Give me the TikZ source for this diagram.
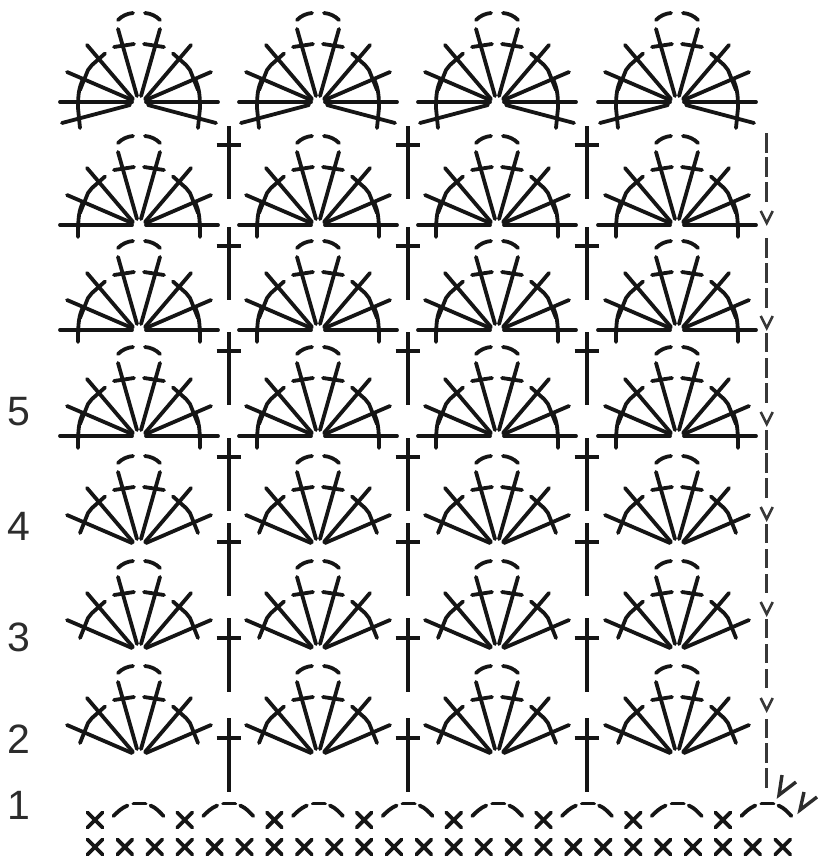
\documentclass[tikz,border=0pt]{standalone}
\usepackage{fontspec}
\setmainfont{Liberation Sans}
\definecolor{ink}{HTML}{151515}
\tikzset{
  x=1pt,y=1pt,
  st/.style={draw=ink,line width=3.8pt,line cap=round,line join=round},
  post/.style={draw=ink,line width=4pt},
  sidedash/.style={draw=ink!85,line width=3pt},
  chv/.style={draw=ink!85,line width=2.6pt,line join=miter},
  bigv/.style={draw=ink!90,line width=3.4pt,line join=miter},
  rownum/.style={text=ink!90,inner sep=0pt,font=\fontsize{41}{41}\selectfont},
}
% half of a fan (right half, mirrored with xscale=-1)
\newcommand\halffan{%
  \draw[st] (7,0) -- (72,28);
  \draw[st] (6,1) -- (52,55);
  \draw[st] (2,4) -- (21,71);
  \draw[st] (59,10) -- (51,30) -- (47,35) -- (34,46.5);
  \draw[st] (25,53) -- (5,56);
  \draw[st] (6,87) .. controls (12,86.5) and (17,84) .. (21,80);
}
\newcommand\shortfan[2]{%
  \foreach \s in {-1,1}{\begin{scope}[shift={(#1,-#2)},xscale=\s]\halffan\end{scope}}}
\newcommand\flatfan[2]{%
  \foreach \s in {-1,1}{\begin{scope}[shift={(#1,-#2+2)},xscale=\s]\halffan
    \draw[st] (7,-2) -- (79,-2);
    \draw[st] (56,21) .. controls (60,12) and (61,6) .. (61,-14);
  \end{scope}}}
\newcommand\topfan[2]{%
  \foreach \s in {-1,1}{\begin{scope}[shift={(#1,-#2+2)},xscale=\s]\halffan
    \draw[st] (7,-2) -- (79,-2);
    \draw[st] (9,-5) -- (77,-23);
    \draw[st] (56,21) .. controls (60,12) and (61,6) .. (61,-8) -- (59,-28);
  \end{scope}}}
\newcommand\tallpost[4]{% x, top, cross, bottom
  \draw[post] (#1,-#2) -- (#1,-#4);
  \draw[post] (#1-12,-#3) -- (#1+12,-#3);}
\newcommand\xst[2]{%
  \draw[st] (#1-7.5,-#2-7.5) -- (#1+7.5,-#2+7.5);
  \draw[st] (#1-7.5,-#2+7.5) -- (#1+7.5,-#2-7.5);}
\newcommand\chainarc[1]{%
  \draw[st] (#1-26,-816) .. controls (#1-22,-812) and (#1-18,-808) .. (#1-12,-805.5);
  \draw[st] (#1-6,-803.5) -- (#1+6,-803.5);
  \draw[st] (#1+11,-805.5) .. controls (#1+17,-808) and (#1+20,-812) .. (#1+24,-816);}
\newcommand\vmark[2]{\draw[chv] (#1-6,-#2) -- (#1,-#2-12) -- (#1+6,-#2);}
\begin{document}
\begin{tikzpicture}
\useasboundingbox (0,0) rectangle (818,-868);
\fill[white] (0,0) rectangle (818,-868);
% top row
\foreach \cx in {139,318,497,677}{\topfan{\cx}{102}}
% flat rows
\foreach \cy in {225,330,436}{\foreach \cx in {139,318,497,677}{\flatfan{\cx}{\cy}}}
% short rows
\foreach \cy in {543,648,753}{\foreach \cx in {139,318,497,677}{\shortfan{\cx}{\cy}}}
% tall posts
\foreach \px in {228.5,407.5,586.5}{
  \tallpost{\px}{126}{145}{199}
  \tallpost{\px}{227}{246}{300}
  \tallpost{\px}{332}{351}{405}
  \tallpost{\px}{438}{457}{511}
  \tallpost{\px}{523}{542}{596}
  \tallpost{\px}{618}{638}{692}
  \tallpost{\px}{718}{738}{792}
}
% side dashes
\foreach \a/\b in {133/153,157/177,182/202,238/258,263/283,288/308,333/352,358/378,383/403,430/450,453/473,478/498,524/543,549/568,574/593,619/638,644/663,669/688,719/738,743/763,768/788}{
  \draw[sidedash] (766.7,-\a) -- (766.7,-\b);
}
\foreach \vy in {211,316,412,507,602,698}{\vmark{766.7}{\vy}}
\draw[bigv] (782,-775) -- (779,-795) -- (796,-782);
\draw[bigv] (804,-792) -- (800,-810) -- (817,-797);
% foundation
\foreach \k in {0,...,23}{\pgfmathsetmacro\xx{95+29.9*\k}\xst{\xx}{847}}
\foreach \k in {0,...,7}{\pgfmathsetmacro\xx{95+89.7*\k}\xst{\xx}{820}}
\foreach \k in {0,...,7}{\pgfmathsetmacro\xx{139.5+89.7*\k}\chainarc{\xx}}
% row numbers
\node[rownum] (n5) at (19,-412) {5};
\node[rownum] (n4) at (19,-526) {4};
\node[rownum] (n3) at (19,-637) {3};
\node[rownum] (n2) at (19,-739) {2};
\node[rownum] (n1) at (19,-805) {1};
\end{tikzpicture}
\end{document}
